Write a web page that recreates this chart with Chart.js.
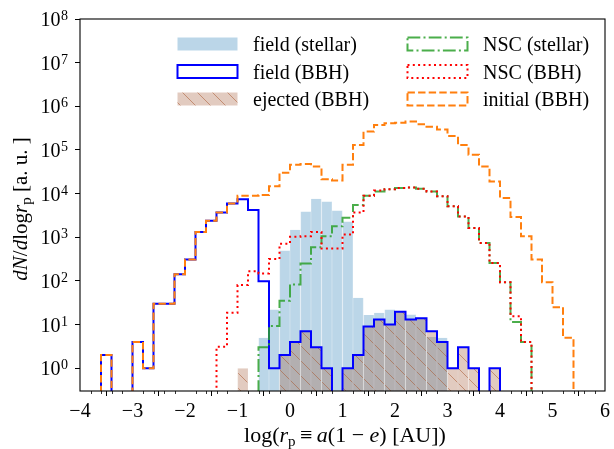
<!DOCTYPE html>
<html>
<head>
<meta charset="utf-8">
<script src="https://cdn.jsdelivr.net/npm/chart.js@4.4.0/dist/chart.umd.min.js"></script>
<style>
  html, body { margin: 0; padding: 0; background: #fff; }
</style>
</head>
<body>
<canvas id="chart" width="614" height="449"></canvas>
<script>
const binWidth = 0.2;
const yMin = 0.316;   // 10^-0.5
const yMax = 1e8;
const emptyBin = 1e-3; // empty bins drop below the log axis

const xTicks = [-4, -3, -2, -1, 0, 1, 2, 3, 4, 5, 6];
const yTicks = [1, 10, 100, 1e3, 1e4, 1e5, 1e6, 1e7, 1e8];

// each series: left edge of its first bin, then one count per 0.2 bin
const fieldStellarStart = -0.6;
const fieldStellar = [5, 22, 500, 1480, 3900, 7600, 6600, 4100, 2300, 41, 16.6, 18.6, 22, 20, 17, 14.5, 5.2, 5];

const fieldBBHStart = -3.6;
const fieldBBH = [2, 0, 0, 4, 1, 30, 30, 141, 310, 1320, 2400, 3700, 5900, 7400, 4200, 98, 1, 2, 4, 7,
                  3, 1, 0, 1, 2, 9, 13, 10, 19.5, 13, 14, 7, 4, 1, 3, 1, 0, 1];

const ejectedStart = -1.0;
const ejected = [1, 0, 0, 0, 2, 4, 7, 3, 1, 0, 1, 2, 9, 13, 10, 19.5, 13, 14, 7, 4, 1, 3, 1, 0, 1];

const nscStellarStart = -0.6;
const nscStellar = [3, 9.3, 35, 83, 250, 590, 1050, 1780, 2800, 5500, 8900, 11200, 12600, 13500, 13800,
                    12900, 11200, 8700, 5100, 3000, 1620, 740, 257, 93, 11.5, 4];

const nscBBHStart = -1.4;
const nscBBH = [3.1, 18.6, 80, 166, 148, 316, 710, 1020, 1050, 1320, 550, 550, 1150, 3700, 8900,
                11700, 12600, 13500, 13800, 12900, 11200, 8700, 5100, 3000, 1620, 740, 257, 93, 15.5, 4];

const initialStart = -3.6;
const initial = [2, 0, 0, 4, 1, 30, 30, 141, 310, 1320, 2400, 3700, 5900, 8900, 8900, 9300, 14800, 30000,
                 45700, 47900, 41700, 21400, 20000, 45700, 129000, 263000, 371000, 407000, 417000, 447000,
                 389000, 339000, 295000, 209000, 129000, 77600, 41700, 19000, 7900, 2900, 1050, 310, 93, 25, 5];

const serif = "'Liberation Serif', 'DejaVu Serif', serif";
const lightBlue = 'rgba(31,119,180,0.3)';
const green = 'rgba(44,160,44,0.85)';
const orange = '#ff7f0e';

function edge(start, i) {
    return Math.round((start + i * binWidth) * 10) / 10;
}

// outline of a step histogram, starting and ending at the bottom
function stepPoints(start, counts) {
    const pts = [{ x: start, y: emptyBin }];
    counts.forEach((c, i) => pts.push({ x: edge(start, i), y: c > 0 ? c : emptyBin }));
    const end = edge(start, counts.length);
    pts.push({ x: end, y: counts[counts.length - 1] }, { x: end, y: emptyBin });
    return pts;
}

function barPoints(start, counts) {
    const pts = [];
    counts.forEach((c, i) => {
        if (c > 0) pts.push({ x: edge(start, i) + binWidth / 2, y: c });
    });
    return pts;
}

function hatchPattern() {
    const s = 15;
    const c = document.createElement('canvas');
    c.width = s; c.height = s;
    const g = c.getContext('2d');
    g.fillStyle = 'rgba(160,82,45,0.3)';
    g.fillRect(0, 0, s, s);
    g.strokeStyle = 'rgba(170,90,50,0.55)';
    g.lineWidth = 1;
    for (let k = -1; k <= 1; k++) {
        g.beginPath();
        g.moveTo(-1, -1 + k * s);
        g.lineTo(s + 1, s + 1 + k * s);
        g.stroke();
    }
    return g.createPattern(c, 'repeat');
}
const hatch = hatchPattern();

function font(size, italic) {
    return (italic ? 'italic ' : '') + size + 'px ' + serif;
}

function drawRich(ctx, parts, cx, baseline, size) {
    const sub = Math.round(size * 0.7);
    let total = 0;
    parts.forEach(p => {
        ctx.font = font(p.sub ? sub : size, p.it);
        p.w = ctx.measureText(p.t).width;
        total += p.w;
    });
    let x = cx - total / 2;
    ctx.textAlign = 'left';
    ctx.textBaseline = 'alphabetic';
    parts.forEach(p => {
        ctx.font = font(p.sub ? sub : size, p.it);
        ctx.fillText(p.t, x, baseline + (p.sub ? size * 0.2 : 0));
        x += p.w;
    });
}

const legendItems = [
    { col: 0, row: 0, label: 'field (stellar)', kind: 'fill', color: lightBlue },
    { col: 0, row: 1, label: 'field (BBH)', kind: 'line', color: 'blue', dash: [] },
    { col: 0, row: 2, label: 'ejected (BBH)', kind: 'hatch' },
    { col: 1, row: 0, label: 'NSC (stellar)', kind: 'line', color: green, dash: [12.8, 3.2, 2, 3.2] },
    { col: 1, row: 1, label: 'NSC (BBH)', kind: 'line', color: 'red', dash: [2, 3.3] },
    { col: 1, row: 2, label: 'initial (BBH)', kind: 'line', color: orange, dash: [7.4, 3.2] }
];

const decorations = {
    id: 'decorations',
    afterDatasetsDraw(chart) {
        const ctx = chart.ctx;
        const a = chart.chartArea;
        const xs = chart.scales.x, ys = chart.scales.y;
        ctx.save();

        // frame
        ctx.strokeStyle = '#000';
        ctx.lineWidth = 1.1;
        ctx.setLineDash([]);
        ctx.strokeRect(a.left, a.top, a.right - a.left, a.bottom - a.top);

        // minor x ticks every 0.2
        ctx.lineWidth = 0.8;
        ctx.beginPath();
        for (let k = -20; k <= 30; k++) {
            if (k % 5 === 0) continue;
            const x = Math.round(xs.getPixelForValue(k / 5)) + 0.5;
            ctx.moveTo(x, a.bottom);
            ctx.lineTo(x, a.bottom + 3);
        }
        ctx.stroke();

        ctx.fillStyle = '#000';
        // x tick labels
        ctx.font = font(20);
        ctx.textAlign = 'center';
        ctx.textBaseline = 'alphabetic';
        xTicks.forEach(v => {
            const txt = v < 0 ? '\u2212' + Math.abs(v) : String(v);
            ctx.fillText(txt, xs.getPixelForValue(v), 417);
        });

        // y tick labels 10^n
        yTicks.forEach(v => {
            const y = ys.getPixelForValue(v);
            const ex = String(Math.round(Math.log10(v)));
            ctx.textAlign = 'right';
            ctx.font = font(14);
            const ew = ctx.measureText(ex).width;
            ctx.fillText(ex, 68, y + 1);
            ctx.font = font(20);
            ctx.fillText('10', 68 - ew - 0.5, y + 7);
        });

        // axis titles
        drawRich(ctx, [
            { t: 'log(' }, { t: 'r', it: true }, { t: 'p', sub: true }, { t: '\u2009\u2261\u2009' },
            { t: 'a', it: true }, { t: '(1 \u2212 ' }, { t: 'e', it: true }, { t: ') [AU])' }
        ], 345, 442, 22);

        ctx.save();
        ctx.translate(27, 209);
        ctx.rotate(-Math.PI / 2);
        drawRich(ctx, [
            { t: 'dN', it: true }, { t: '/' }, { t: 'd', it: true }, { t: 'log' },
            { t: 'r', it: true }, { t: 'p', sub: true }, { t: ' [a. u. ]' }
        ], 0, 0, 21);
        ctx.restore();

        // legend
        legendItems.forEach(it => {
            const px = it.col === 0 ? 177.5 : 407.5;
            const tx = it.col === 0 ? 253 : 483;
            const cy = 44 + it.row * 27.5;
            const w = 60, h = 13;
            if (it.kind === 'fill') {
                ctx.fillStyle = it.color;
                ctx.fillRect(px, cy - h / 2, w, h);
            } else if (it.kind === 'hatch') {
                ctx.fillStyle = hatch;
                ctx.fillRect(px, cy - h / 2, w, h);
            } else {
                ctx.strokeStyle = it.color;
                ctx.lineWidth = 2;
                ctx.setLineDash(it.dash);
                ctx.strokeRect(px, cy - h / 2, w, h);
                ctx.setLineDash([]);
            }
            ctx.fillStyle = '#000';
            ctx.font = font(20);
            ctx.textAlign = 'left';
            ctx.fillText(it.label, tx, cy + 7);
        });
        ctx.restore();
    }
};

function stepLine(points, color, dash) {
    return {
        type: 'line',
        data: points,
        borderColor: color,
        borderWidth: 2,
        borderDash: dash,
        borderCapStyle: 'butt',
        borderJoinStyle: 'miter',
        stepped: 'before',
        pointRadius: 0,
        fill: false,
        tension: 0,
        clip: { left: 1, right: 1, top: 1, bottom: 0 }
    };
}

// first dataset is drawn on top
const datasets = [
    stepLine(stepPoints(initialStart, initial), orange, [7.4, 3.2]),
    stepLine(stepPoints(nscBBHStart, nscBBH), 'red', [2, 3.3]),
    stepLine(stepPoints(nscStellarStart, nscStellar), green, [12.8, 3.2, 2, 3.2]),
    stepLine(stepPoints(fieldBBHStart, fieldBBH), 'blue', []),
    {
        type: 'bar',
        data: barPoints(ejectedStart, ejected),
        backgroundColor: hatch,
        borderColor: 'rgba(150,80,50,0.3)',
        borderWidth: { left: 0.6, right: 0.6, top: 0, bottom: 0 }
    },
    {
        type: 'bar',
        data: barPoints(fieldStellarStart, fieldStellar),
        backgroundColor: lightBlue,
        borderColor: 'rgba(31,119,180,0.25)',
        borderWidth: { left: 0.6, right: 0.6, top: 0, bottom: 0 }
    }
];

new Chart(document.getElementById('chart'), {
    type: 'line',
    data: { datasets: datasets },
    options: {
        responsive: false,
        animation: false,
        devicePixelRatio: 1,
        layout: { padding: { top: 19, right: 9, left: 0, bottom: 0 } },
        datasets: {
            bar: { grouped: false, barPercentage: 1, categoryPercentage: 1, inflateAmount: 0 }
        },
        plugins: { legend: { display: false }, tooltip: { enabled: false } },
        scales: {
            x: {
                type: 'linear',
                min: -4, max: 6,
                offset: false,
                afterBuildTicks: s => { s.ticks = xTicks.map(v => ({ value: v })); },
                afterFit: s => { s.height = 58; },
                ticks: { display: false },
                grid: { display: true, drawOnChartArea: false, drawTicks: true, tickLength: 5, tickColor: '#000', tickWidth: 1 },
                border: { display: false }
            },
            y: {
                type: 'logarithmic',
                min: yMin, max: yMax,
                afterBuildTicks: s => { s.ticks = yTicks.map(v => ({ value: v })); },
                afterFit: s => { s.width = 80; },
                ticks: { display: false },
                grid: { display: true, drawOnChartArea: false, drawTicks: true, tickLength: 5, tickColor: '#000', tickWidth: 1 },
                border: { display: false }
            }
        }
    },
    plugins: [decorations]
});
</script>
</body>
</html>
